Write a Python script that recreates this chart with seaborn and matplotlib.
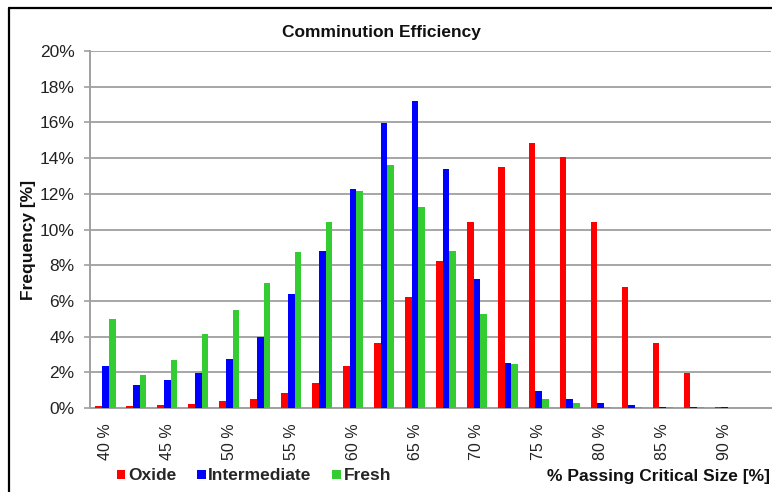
import pandas as pd
import matplotlib.pyplot as plt
from matplotlib.lines import Line2D
import seaborn as sns

# passing critical size classes (every 2.5 %), only every second one gets a label
sizes = [40, 42.5, 45, 47.5, 50, 52.5, 55, 57.5, 60, 62.5, 65,
         67.5, 70, 72.5, 75, 77.5, 80, 82.5, 85, 87.5, 90]
tick_labels = ['40 %', '45 %', '50 %', '55 %', '60 %', '65 %',
               '70 %', '75 %', '80 %', '85 %', '90 %']

oxide = [0.10, 0.10, 0.17, 0.24, 0.39, 0.52, 0.84, 1.42, 2.37, 3.63, 6.23,
         8.22, 10.44, 13.48, 14.86, 14.04, 10.44, 6.80, 3.63, 1.94, 0.07]
intermediate = [2.37, 1.27, 1.58, 1.96, 2.74, 3.95, 6.37, 8.82, 12.26, 15.99, 17.19,
                13.38, 7.25, 2.52, 0.97, 0.52, 0.30, 0.15, 0.07, 0.07, 0.07]
fresh = [4.96, 1.85, 2.67, 4.16, 5.48, 7.03, 8.72, 10.44, 12.13, 13.61, 11.24,
         8.82, 5.26, 2.44, 0.52, 0.30, 0.07, 0.07, 0.07, 0.07, 0.0]

series = {'Oxide': oxide, 'Intermediate': intermediate, 'Fresh': fresh}
colors = {'Oxide': '#FF0000', 'Intermediate': '#0000FF', 'Fresh': '#33CC33'}

# long format table for seaborn
rows = []
for name, vals in series.items():
    for s, v in zip(sizes, vals):
        rows.append({'size': f'{s} %', 'ore': name, 'freq': v})
df = pd.DataFrame(rows)

sns.set_theme(style='white')
plt.rcParams['font.family'] = ['Liberation Sans', 'DejaVu Sans']

fig = plt.figure(figsize=(7.72, 4.92), dpi=100)
ax = fig.add_axes([90 / 772, 84 / 492, 681 / 772, 357 / 492])

sns.barplot(data=df, x='size', y='freq', hue='ore', palette=colors,
            width=0.65, gap=0, saturation=1, linewidth=0, edgecolor='none',
            ax=ax, zorder=3)

ax.set_xlim(-0.5, 21.5)
ax.set_ylim(0, 20)
ax.set_yticks(range(0, 21, 2))
ax.set_yticklabels([f'{v}%' for v in range(0, 21, 2)], fontsize=12.5, color='#222222')
ax.set_xticks(range(0, 21, 2))
ax.set_xticklabels(tick_labels, rotation=90, fontsize=11.5, color='#222222')
ax.tick_params(axis='y', length=4, width=1.2, color='#a0a0a0', pad=7, left=True)
ax.tick_params(axis='x', length=0, pad=11)
ax.set_xlabel('')
ax.set_ylabel('')

ax.yaxis.grid(True, color='#a6a6a6', linewidth=1.4, zorder=0)
ax.xaxis.grid(False)
for side in ['top', 'right']:
    ax.spines[side].set_visible(False)
for side in ['left', 'bottom']:
    ax.spines[side].set_color('#a0a0a0')
    ax.spines[side].set_linewidth(1.4)

# legend at the bottom left, small square markers
handles, labels = ax.get_legend_handles_labels()
ax.legend(handles, labels, loc='center left', bbox_to_anchor=(101 / 772, 16 / 492),
          bbox_transform=fig.transFigure, ncol=3, frameon=False,
          handlelength=0.5, handleheight=0.4, handletextpad=0.15,
          columnspacing=1.2, prop={'size': 12.5, 'weight': 'bold'})

fig.text(381 / 772, 459 / 492, 'Comminution Efficiency', ha='center', va='center',
         fontsize=12.5, fontweight='bold', color='#111111')
fig.text(29 / 772, 252 / 492, 'Frequency [%]', rotation=90, ha='center', va='center',
         fontsize=12.5, fontweight='bold', color='#111111')
fig.text(770 / 772, 15 / 492, '% Passing Critical Size [%]', ha='right', va='center',
         fontsize=12.5, fontweight='bold', color='#111111')

# outer chart frame (cut off on the right and bottom)
fig.add_artist(Line2D([9 / 772, 1], [1 - 8 / 492, 1 - 8 / 492], color='black', linewidth=1.6))
fig.add_artist(Line2D([9 / 772, 9 / 772], [0, 1 - 8 / 492], color='black', linewidth=1.6))

plt.savefig('out.png', dpi=100)
